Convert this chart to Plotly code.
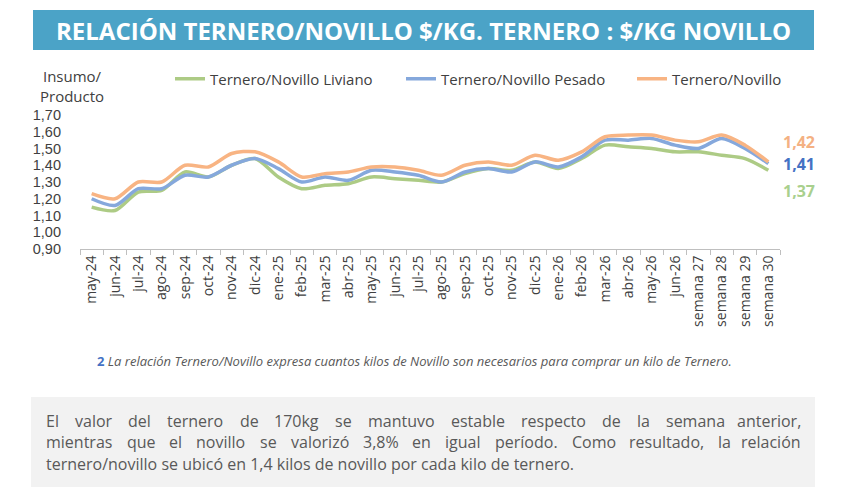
import plotly.graph_objects as go

categories = ["may-24", "jun-24", "jul-24", "ago-24", "sep-24", "oct-24", "nov-24", "dic-24",
              "ene-25", "feb-25", "mar-25", "abr-25", "may-25", "jun-25", "jul-25", "ago-25",
              "sep-25", "oct-25", "nov-25", "dic-25", "ene-26", "feb-26", "mar-26", "abr-26",
              "may-26", "jun-26", "semana 27", "semana 28", "semana 29", "semana 30"]

liviano = [1.15, 1.13, 1.24, 1.25, 1.36, 1.33, 1.40, 1.44, 1.33, 1.26,
           1.28, 1.29, 1.33, 1.32, 1.31, 1.30, 1.35, 1.38, 1.37, 1.42,
           1.38, 1.44, 1.52, 1.51, 1.50, 1.48, 1.48, 1.46, 1.44, 1.37]
pesado = [1.20, 1.16, 1.26, 1.26, 1.34, 1.33, 1.40, 1.44, 1.38, 1.30,
          1.33, 1.31, 1.37, 1.36, 1.34, 1.30, 1.36, 1.38, 1.36, 1.42,
          1.39, 1.45, 1.55, 1.55, 1.56, 1.52, 1.50, 1.56, 1.50, 1.41]
general = [1.23, 1.20, 1.30, 1.30, 1.40, 1.39, 1.47, 1.48, 1.42, 1.33,
           1.35, 1.36, 1.39, 1.39, 1.37, 1.34, 1.40, 1.42, 1.40, 1.46,
           1.43, 1.48, 1.57, 1.58, 1.58, 1.55, 1.54, 1.58, 1.52, 1.42]

series_names = ["Ternero/Novillo Liviano", "Ternero/Novillo Pesado", "Ternero/Novillo"]
line_colors = ["#ADCB85", "#85A8DC", "#F8B483"]
label_colors = ["#A9D08E", "#4472C4", "#F4B183"]

title_text = "RELACIÓN TERNERO/NOVILLO $/KG. TERNERO : $/KG NOVILLO"
footnote = "La relación Ternero/Novillo expresa cuantos kilos de Novillo son necesarios para comprar un kilo de Ternero."
body_lines = [
    "El valor del ternero de 170kg se mantuvo estable respecto de la semana anterior,",
    "mientras que el novillo se valorizó 3,8% en igual período. Como resultado, la relación",
    "ternero/novillo se ubicó en 1,4 kilos de novillo por cada kilo de ternero.",
]

# plot area in pixels
W_FIG, H_FIG = 844, 498
L, R, T, B = 80, 780, 115, 249
PW, PH = R - L, B - T


def px(x):
    return (x - L) / PW


def py(y):
    return (B - y) / PH


FONT = "Open Sans"
TXT = "#404040"
BODY_COL = "#595959"

# approximate Open Sans advance widths (em) used only to justify the body text
EM = {" ": 0.26, "a": 0.556, "b": 0.613, "c": 0.479, "d": 0.613, "e": 0.561, "f": 0.336, "g": 0.546,
      "h": 0.613, "i": 0.258, "j": 0.258, "k": 0.529, "l": 0.258, "m": 0.932, "n": 0.613, "o": 0.602,
      "p": 0.613, "q": 0.613, "r": 0.408, "s": 0.477, "t": 0.353, "u": 0.613, "v": 0.5, "w": 0.775,
      "x": 0.514, "y": 0.5, "z": 0.469, "E": 0.556, "C": 0.579, ",": 0.245, ".": 0.266, "%": 0.813,
      "/": 0.367, "ó": 0.602, "í": 0.258}


def text_w(s, size):
    return sum(EM.get(ch, 0.572) for ch in s) * size


fig = go.Figure()
for name, vals, col in zip(series_names, [liviano, pesado, general], line_colors):
    fig.add_trace(go.Scatter(x=categories, y=vals, name=name, mode="lines",
                             line=dict(color=col, width=3.5, shape="spline", smoothing=0.8)))

shapes = []
annotations = []

# title banner
shapes.append(dict(type="rect", xref="paper", yref="paper", x0=px(33), x1=px(814),
                   y0=py(50), y1=py(10), fillcolor="#4BA3C7", line=dict(width=0), layer="below"))
annotations.append(dict(xref="paper", yref="paper", x=px(423.5), y=py(30), text="<b>" + title_text + "</b>",
                        showarrow=False, xanchor="center", yanchor="middle",
                        font=dict(family=FONT, size=24, color="white")))

# y axis title
annotations.append(dict(xref="paper", yref="paper", x=px(72), y=py(86), text="Insumo/<br>Producto",
                        showarrow=False, xanchor="center", yanchor="middle", align="center",
                        font=dict(family=FONT, size=15, color=TXT)))

# end labels
shifts = [(-21, label_colors[0], liviano), (0, label_colors[1], pesado), (20, label_colors[2], general)]
for ys, col, vals in shifts:
    annotations.append(dict(x=categories[-1], y=vals[-1], xref="x", yref="y",
                            text="<b>" + f"{vals[-1]:.2f}".replace(".", ",") + "</b>",
                            showarrow=False, xanchor="left", yanchor="middle", xshift=13, yshift=ys,
                            font=dict(family=FONT, size=16, color=col)))

# footnote
annotations.append(dict(xref="paper", yref="paper", x=px(414), y=py(361),
                        text="<b><span style='color:#4472C4'>2</span></b> <i>" + footnote + "</i>",
                        showarrow=False, xanchor="center", yanchor="middle",
                        font=dict(family=FONT, size=13, color="#595959")))

# body text box
shapes.append(dict(type="rect", xref="paper", yref="paper", x0=px(31), x1=px(815),
                   y0=py(487), y1=py(397), fillcolor="#F2F2F2", line=dict(width=0), layer="below"))
BODY_SIZE = 16
left_x, right_x = 44, 803
line_ys = [420.5, 442, 463.5]
for i, (ln, ly) in enumerate(zip(body_lines, line_ys)):
    if i == len(body_lines) - 1:
        annotations.append(dict(xref="paper", yref="paper", x=px(left_x), y=py(ly), text=ln,
                                showarrow=False, xanchor="left", yanchor="middle",
                                font=dict(family=FONT, size=BODY_SIZE, color=BODY_COL)))
        continue
    words = ln.split(" ")
    widths = [text_w(w, BODY_SIZE) for w in words]
    gap = (right_x - left_x - sum(widths)) / (len(words) - 1)
    xpos = left_x
    for j, w in enumerate(words):
        last = j == len(words) - 1
        annotations.append(dict(xref="paper", yref="paper", x=px(right_x if last else xpos), y=py(ly), text=w,
                                showarrow=False, xanchor="right" if last else "left", yanchor="middle",
                                font=dict(family=FONT, size=BODY_SIZE, color=BODY_COL)))
        xpos += widths[j] + gap

fig.update_layout(
    width=W_FIG, height=H_FIG,
    margin=dict(l=L, r=W_FIG - R, t=T, b=H_FIG - B, autoexpand=False),
    paper_bgcolor="white", plot_bgcolor="white",
    separators=",.",
    showlegend=True,
    legend=dict(orientation="h", x=px(170), y=py(79), xanchor="left", yanchor="middle",
                font=dict(family=FONT, size=15, color=TXT), entrywidth=186, entrywidthmode="pixels",
                bgcolor="rgba(0,0,0,0)", traceorder="normal"),
    xaxis=dict(type="category", range=[-0.5, len(categories) - 0.5], showline=True, linecolor="#BFBFBF",
               linewidth=1, ticks="outside", tickson="boundaries", ticklen=5, tickcolor="#BFBFBF",
               tickangle=-90, tickfont=dict(family=FONT, size=14, color=TXT), showgrid=False,
               zeroline=False, automargin=False),
    yaxis=dict(range=[0.9, 1.7], dtick=0.1, tick0=0.9, tickformat=".2f", showgrid=False, zeroline=False,
               showline=False, ticks="", tickfont=dict(family="Liberation Sans", size=14.5, color=TXT),
               ticklabelstandoff=18, automargin=False),
    shapes=shapes, annotations=annotations,
)

fig.write_html("out.html")
